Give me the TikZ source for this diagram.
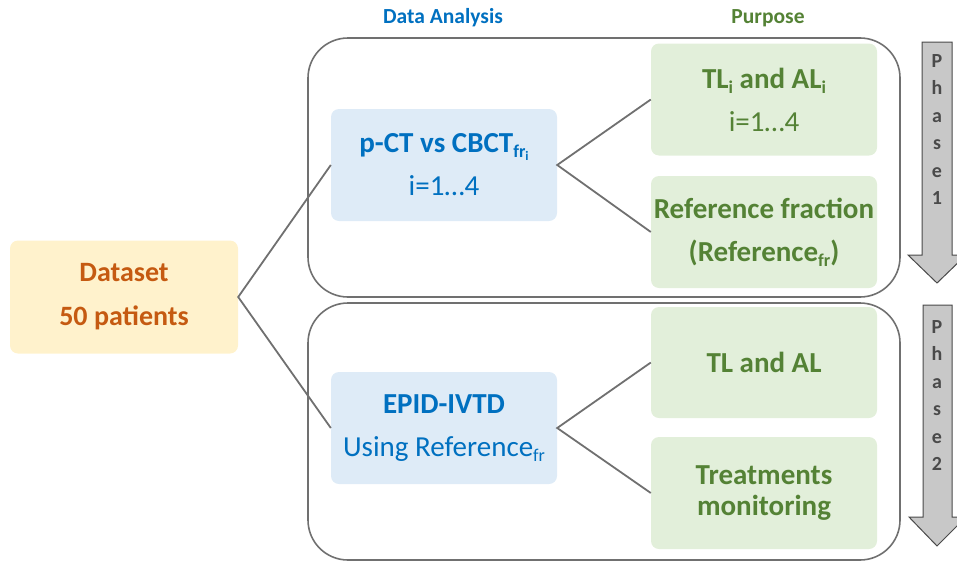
\documentclass[tikz,border=0pt]{standalone}
\usepackage{fontspec}
\setmainfont{Carlito}
\definecolor{cblue}{HTML}{0070C0}
\definecolor{cgreen}{HTML}{548235}
\definecolor{corange}{HTML}{C55A11}
\definecolor{fblue}{HTML}{DEEBF7}
\definecolor{fgreen}{HTML}{E2EFDA}
\definecolor{fyellow}{HTML}{FFF2CC}
\definecolor{lgray}{HTML}{707070}
\definecolor{agray}{HTML}{C8C8C8}
\definecolor{adark}{HTML}{4A4A4A}
\newcommand{\subfr}{\raisebox{-5pt}{\fontsize{18}{18}\selectfont fr}}
\newcommand{\subfri}{\raisebox{-5pt}{\fontsize{18}{18}\selectfont fr\raisebox{-3pt}{\fontsize{13}{13}\selectfont i}}}
\newcommand{\subi}{\raisebox{-5pt}{\fontsize{18}{18}\selectfont i}}
\begin{document}
\begin{tikzpicture}[x=1pt,y=-1pt,
  box/.style={rounded corners=8pt, minimum width=226pt, minimum height=112pt, inner sep=0pt, align=center, font=\fontsize{29}{43}\selectfont},
  bluebox/.style={box, fill=fblue, text=cblue},
  greenbox/.style={box, fill=fgreen, text=cgreen},
  frame/.style={draw=lgray, line width=1.6pt, rounded corners=40pt},
  link/.style={draw=lgray, line width=1.8pt},
  phasearrow/.style={draw=adark, fill=agray, line width=1pt},
  phasetext/.style={text=adark, font=\fontsize{20}{27.5}\selectfont\bfseries, align=center, inner sep=0pt},
  header/.style={font=\fontsize{21.5}{24}\selectfont\bfseries}]
\useasboundingbox (0,0) rectangle (957,562);

% frames
\draw[frame] (308,38) rectangle (900,297);
\draw[frame] (308,303) rectangle (900,560);

% headers
\node[header, text=cblue] (hda) at (443,18) {Data Analysis};
\node[header, text=cgreen] (hpu) at (768,18) {Purpose};

% nodes
\node[box, fill=fyellow, text=corange, font=\fontsize{28}{44}\selectfont\bfseries, minimum width=228pt, minimum height=113pt] (data) at (124,297) {Dataset\\50 patients};
\node[bluebox] (pct) at (444,165) {\textbf{p-CT vs CBCT\subfri}\\i=1…4};
\node[bluebox] (epid) at (444,428) {\textbf{EPID-IVTD}\\Using Reference\subfr};
\node[greenbox] (tl) at (764,99.5) {\textbf{TL\subi{} and AL\subi}\\i=1…4};
\node[greenbox] (ref) at (764,232) {\textbf{Reference fraction}\\\textbf{(Reference\subfr)}};
\node[greenbox, font=\fontsize{29}{30}\selectfont\bfseries, minimum height=111pt] (tlal) at (764,362.5) {TL and AL};
\node[greenbox, font=\fontsize{29}{31}\selectfont\bfseries] (treat) at (764,493) {Treatments\\monitoring};

% connectors
\draw[link] (pct.west) -- (data.east) -- (epid.west);
\draw[link] (tl.west) -- (pct.east) -- (ref.west);
\draw[link] (tlal.west) -- (epid.east) -- (treat.west);

% phase arrows
\draw[phasearrow] (922,42) -- (952,42) -- (952,255) -- (966,255) -- (937,283) -- (908,255) -- (922,255) -- cycle;
\draw[phasearrow] (923,305) -- (952,305) -- (952,517) -- (966,517) -- (937,546) -- (909,517) -- (923,517) -- cycle;
\node[phasetext, anchor=north] (p1) at (937,54) {P\\h\\a\\s\\e\\1};
\node[phasetext, anchor=north] (p2) at (937,320) {P\\h\\a\\s\\e\\2};
\end{tikzpicture}
\end{document}
